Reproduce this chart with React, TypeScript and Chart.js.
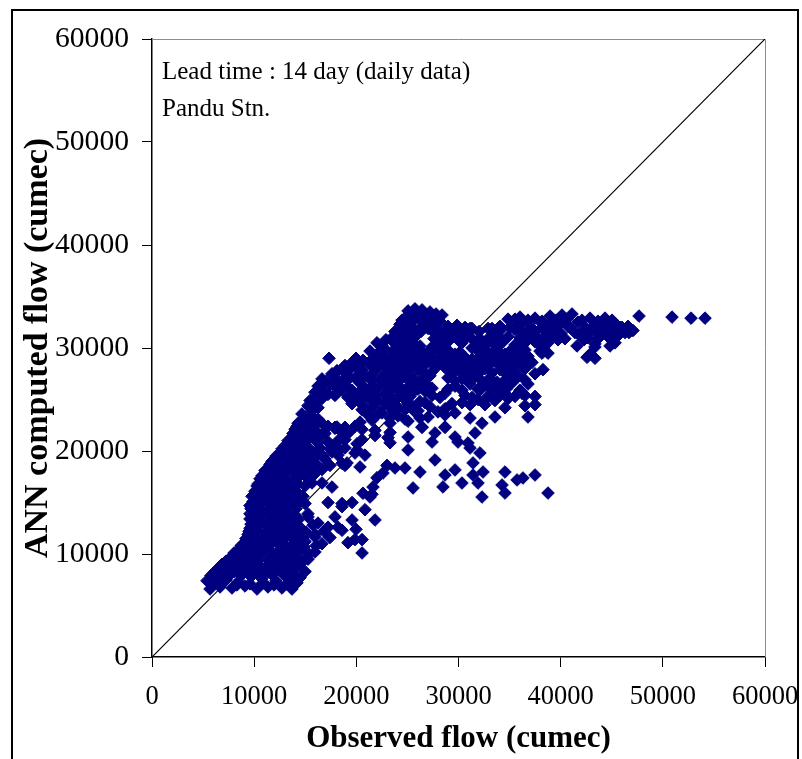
import React, { useEffect, useRef } from "react";
import { Chart, registerables } from "chart.js";

Chart.register(...registerables);

// [observed flow, ANN computed flow] in cumec, Pandu station, 14-day lead time
const baseFlowPoints: [number, number][] = [
  [5680, 6600], [6660, 6800], [7830, 6700], [9100, 6900], [10280, 6600], [11350, 6800], [12720, 6700], [13700, 6600],
  [5970, 7100], [6950, 7200], [8320, 7000], [9590, 7100], [10870, 7200], [11940, 7000], [13210, 7100], [14190, 7200],
  [5380, 7400], [6260, 7600], [7240, 7500], [8420, 7300], [10770, 7600], [12140, 7400], [13510, 7500], [14490, 7700],
  [5770, 7900], [6750, 7800], [7640, 8000], [8710, 7900], [9690, 7800], [10670, 7900], [11750, 8000], [13020, 7900], [14100, 7800],
  [6070, 8200], [7050, 8400], [8030, 8300], [9200, 8500], [10180, 8200], [11350, 8300], [12530, 8400], [13700, 8100], [14980, 8300],
  [6460, 8600], [7440, 8700], [8420, 8600], [9590, 8500], [10670, 8700], [11840, 8600], [13020, 8600], [14100, 8700],
  [6850, 9000], [7830, 8800], [8910, 9100], [9980, 8900], [11160, 8700], [12330, 9000], [13510, 8900], [14490, 9100],
  [7240, 9300], [8220, 9400], [9300, 9200], [10280, 9300], [11350, 9400], [12530, 9300], [13700, 9200], [14780, 9300],
  [7630, 9600], [8610, 9800], [9590, 9700], [10570, 9900], [11750, 9600], [13020, 9700], [14100, 9800], [15270, 9500],
  [8030, 10100], [8910, 10000], [9790, 10200], [10770, 10100], [11840, 10000], [12920, 10100], [14100, 10200], [15370, 10000],
  [8420, 10300], [9200, 10500], [10180, 10400], [11160, 10600], [12330, 10300], [13510, 10400], [14680, 10500], [15950, 10200], [20560, 10100],
  [8710, 10800], [9490, 10900], [10470, 10700], [11450, 10800], [12530, 10900], [13700, 10800], [14880, 10700], [16050, 10800],
  [9000, 11000], [9790, 11200], [10770, 11100], [11750, 11300], [12920, 11000], [14000, 11100], [14980, 11200], [16640, 11000], [19180, 11100],
  [9200, 11500], [9980, 11400], [10870, 11600], [11840, 11500], [12820, 11400], [13800, 11500], [14780, 11600], [15950, 11650], [20560, 11400],
  [9400, 11900], [10180, 11700], [11160, 11800], [12140, 12000], [13120, 11700], [14290, 11800], [15950, 11900], [17420, 11600], [19870, 11400],
  [9490, 12200], [10280, 12300], [11160, 12100], [12040, 12200], [13020, 12300], [14000, 12200], [15070, 12100], [16840, 12200], [18600, 12300],
  [9590, 12500], [10380, 12700], [11350, 12600], [12330, 12800], [13510, 12500], [14490, 12600], [16250, 13000], [17230, 12600], [18210, 12600], [19970, 12400],
  [9690, 12900], [10470, 13000], [11350, 12800], [12240, 12900], [13120, 13000], [14100, 12900], [15760, 12800],
  [9590, 13400], [10570, 13200], [11550, 13300], [12530, 13500], [13310, 13200], [14290, 13300], [15270, 13900], [19580, 13300], [21830, 13300],
  [9790, 13700], [10570, 13600], [11450, 13800], [12330, 13700], [13210, 13600], [14100, 13700], [15270, 13600],
  [9590, 13900], [10380, 14100], [11350, 14000], [12330, 14200], [13310, 13900], [17910, 13600], [20850, 14300],
];

const risingLimbPoints: [number, number][] = [
  [9690, 14400], [10470, 14500], [11350, 14300], [12240, 14400], [13120, 14500], [14100, 14400], [18600, 14600],
  [9590, 14700], [10570, 14900], [11550, 14800], [12530, 15000], [13510, 14700], [14980, 14900], [17230, 15000], [18600, 14900],
  [9890, 15100], [10670, 15200], [11550, 15000], [12430, 15100], [13410, 15200], [14390, 15100], [21340, 15530],
  [9790, 15600], [10770, 15400], [11750, 15500], [12720, 15700], [13700, 15400], [14780, 15600], [19580, 15000], [20650, 15900], [21530, 15800],
  [9980, 15800], [10870, 15900], [11750, 15700], [12630, 15800], [13510, 15900], [14390, 15800],
  [10080, 16100], [11060, 16300], [12040, 16200], [13020, 16400], [14000, 16100], [17620, 16500], [21630, 16500],
  [10280, 16600], [11160, 16500], [12040, 16700], [12920, 16600], [13800, 16500], [14980, 16600],
  [10380, 16800], [11350, 17000], [12330, 16900], [13310, 17100], [14290, 16800], [15660, 16900], [16640, 16900], [22020, 17400],
  [10570, 17300], [11450, 17400], [12330, 17200], [13310, 17300], [14290, 17400], [15470, 17300], [22610, 17860],
  [10770, 17600], [11750, 17800], [12720, 17700], [14000, 17900], [14980, 17600], [15950, 17800],
  [11060, 18100], [12040, 18000], [12920, 18200], [13800, 18100], [14680, 18000], [15660, 18100], [16640, 18200], [20360, 18450],
  [11350, 18300], [12330, 18500], [13310, 18400], [14290, 18600], [15270, 18300], [16250, 18500], [18890, 18600], [23000, 18600],
  [11550, 18700], [12330, 18800], [13210, 18600], [14100, 18700], [15070, 18800], [16050, 18700], [17420, 18600], [19090, 18840],
  [11750, 19000], [12720, 19200], [13700, 19100], [14680, 19300], [15660, 19000], [16930, 19200], [18600, 18800],
  [12140, 19500], [13020, 19400], [13900, 19600], [14780, 19500], [15760, 19400], [16740, 19500], [18210, 19600],
  [12530, 19700], [13510, 19900], [14290, 19800], [15270, 20000], [16250, 19700], [17620, 19900], [19870, 19800], [20850, 19600],
  [12720, 20200], [13610, 20300], [14490, 20100], [15470, 20200], [16440, 20300], [17420, 20200], [18400, 20100], [20070, 20100],
  [13020, 20500], [14000, 20700], [14980, 20600], [16250, 20800], [17910, 20500], [18890, 20300], [20070, 20700], [23300, 20800],
  [13310, 21000], [14190, 20900], [15070, 21100], [16050, 21000], [17230, 20900], [18210, 21000],
  [13700, 21300], [14490, 21500], [15470, 21400], [16640, 21600], [18890, 21100], [20560, 21100], [21830, 21500], [23100, 21300],
  [13800, 21700], [14680, 21800], [15660, 21600], [16930, 21700], [18600, 21800], [19090, 21750],
  [14000, 22100], [14980, 21900], [15950, 22000], [17910, 22200], [19380, 21900], [20560, 22100], [21830, 22000], [23300, 21800],
  [14190, 22400], [14980, 22300], [15950, 22500], [17230, 22400], [18110, 22330], [18890, 22300], [19870, 22400],
];

const peakBandPoints: [number, number][] = [
  [14290, 22700], [15270, 22900], [16640, 22700], [17910, 22300], [20360, 22800], [21530, 23000], [23300, 22700], [25060, 22900], [26430, 22300], [28680, 22300], [32300, 22700],
  [14980, 23200], [16250, 23100], [21830, 23300], [23300, 23200], [24760, 23100], [26230, 23200],
  [14680, 23600], [15660, 23400], [21140, 23500], [22510, 23700], [24080, 23400], [25740, 23800], [27020, 23300], [28680, 23500], [29660, 23700], [31130, 23200], [33570, 23300], [36800, 23300],
  [15660, 23900], [20560, 24000], [22320, 23800], [23590, 23900], [24760, 24000], [26040, 23900], [27990, 23800],
  [15270, 24400], [16250, 24200], [19580, 24600], [21530, 24300], [23100, 24500], [24080, 24200], [25450, 24400], [27210, 24300], [28680, 24100], [30340, 24700], [32590, 24500], [34550, 24200], [36510, 24400], [37490, 24500],
  [15950, 24600], [20560, 24500], [21830, 24700], [22810, 24600], [23780, 24500], [25060, 24600], [26720, 24700], [29360, 24600], [31130, 24500],
  [15470, 24900], [16640, 25100], [19870, 25000], [21140, 25200], [22120, 24900], [23490, 25100], [24760, 25000], [26230, 24800], [28190, 25200], [31910, 25000], [33570, 24900], [34850, 25100], [36510, 25400],
  [16250, 25300], [17910, 25400], [19180, 25200], [20560, 25300], [21830, 25400], [23100, 25300], [24080, 25200], [25250, 25300], [27410, 25400], [31320, 25200], [32890, 25300], [34060, 25400], [35530, 25300],
  [15950, 25700], [17230, 25500], [18600, 25900], [20160, 25600], [21530, 25800], [22810, 25500], [24270, 25700], [25450, 25600], [26720, 25800], [28680, 25600], [30640, 25400], [32100, 25900], [33280, 25900], [34550, 25600], [36220, 25600], [37490, 25300],
  [16640, 26000], [18010, 26100], [19580, 25900], [20950, 26000], [22120, 26100], [23490, 26000], [24760, 25900], [26040, 26000], [27410, 26100], [28970, 26000], [30340, 25900], [31910, 26000], [33380, 26100], [34650, 26000], [36020, 25900],
  [16250, 26300], [17420, 26500], [18890, 26400], [20360, 26600], [21530, 26300], [22810, 26500], [24080, 26400], [25250, 26200], [26720, 26600], [29660, 26300], [31130, 26500], [32590, 26400], [34060, 26200], [35240, 26600], [36800, 26500],
  [17030, 26800], [18600, 26700], [20070, 26900], [21530, 26800], [22900, 26700], [23980, 26800], [25060, 26900], [26230, 26800], [29660, 26800], [30930, 26900], [32300, 26800], [33770, 26700], [35240, 26800], [36510, 26900],
  [16640, 27000], [17910, 27200], [19380, 27100], [20850, 27300], [22320, 27000], [23490, 27200], [24470, 27100], [25740, 26900], [27210, 27300], [28970, 27100], [30340, 27000], [31620, 27200], [33080, 27100], [34550, 26900], [35820, 27200],
  [17620, 27500], [18890, 27600], [20160, 27400], [21530, 27500], [22900, 27600], [24080, 27500], [25250, 27400], [26720, 27500], [29360, 27500], [30640, 27400], [31910, 27500], [33280, 27600], [34650, 27500], [35820, 27400], [37490, 27500],
  [18110, 27800], [19380, 28000], [20560, 27900], [22120, 28100], [23490, 27800], [24760, 28000], [26040, 27900], [27410, 27700], [28680, 28100], [29950, 27900], [31130, 27800], [32590, 28000], [34060, 27900], [35240, 27700], [36510, 28000], [38270, 27900],
  [18890, 28300], [19970, 28200], [21340, 28400], [22810, 28300], [24080, 28200], [25450, 28300], [26720, 28400], [27990, 28300], [29170, 28200], [30340, 28300], [31620, 28400], [32890, 28300], [34260, 28200], [35530, 28300], [36800, 28400],
  [19380, 28400], [20560, 28700], [22120, 28500], [23490, 28600], [24760, 28400], [26040, 28700], [27410, 28500], [28680, 28300], [29660, 28600], [30930, 28500], [32300, 28400], [33570, 28700], [34850, 28500], [36220, 28300], [37190, 28600],
  [21530, 28900], [23300, 29000], [24760, 28800], [26040, 28900], [27410, 29000], [28680, 28900], [29950, 28800], [31320, 28900], [32500, 29000], [33870, 28900], [35240, 28800], [36410, 28900],
  [17330, 29000], [19970, 29000], [20650, 28800], [22510, 29200], [24080, 29000], [25450, 29300], [26720, 29100], [27990, 28900], [29360, 29200], [30640, 29100], [31910, 29000], [33080, 29300], [34550, 29100], [35820, 28900], [36800, 29200], [38170, 29500], [42580, 29100],
  [22120, 29500], [23490, 29600], [24670, 29400], [25840, 29500], [27020, 29600], [28390, 29500], [29660, 29400], [32010, 29600], [33280, 29500], [34550, 29400], [35820, 29500], [38760, 29500], [42870, 29400],
  [21340, 29700], [22810, 29900], [24080, 29800], [25250, 30000], [26430, 29700], [27700, 29900], [28970, 29800], [30150, 29600], [31320, 30000], [32590, 29800], [33870, 29700], [35240, 29900], [36510, 29800], [37980, 29700], [41600, 30200], [43360, 30100], [43360, 29000],
  [22510, 30200], [23980, 30100], [25060, 30300], [26230, 30200], [27410, 30100], [28480, 30200], [32500, 30100], [33670, 30200], [36220, 30200], [38170, 30100], [44830, 30200],
  [22020, 30500], [23490, 30700], [24470, 30400], [25450, 30600], [27990, 30300], [28970, 30600], [30340, 30500], [31910, 30400], [33080, 30700], [34260, 30500], [35530, 30300], [37490, 30600], [38760, 30500], [39740, 30800], [43360, 30400], [45320, 30500],
  [22900, 30800], [23980, 30900], [25060, 30700], [27600, 30900], [28780, 30800], [30050, 30700], [31420, 30800], [32890, 30900], [34260, 30800], [36800, 30800], [38170, 30900], [39740, 30800], [42280, 30800], [43650, 30900], [44930, 30800],
  [23490, 31000], [24470, 31200], [25740, 31100], [28190, 31000], [29360, 31200], [30740, 31100], [32100, 30900], [33570, 31300], [34850, 31100], [36020, 31000], [37490, 31200], [38960, 31100], [40420, 30900], [41890, 31200], [42680, 31000], [44340, 31400], [45510, 31100],
  [24080, 31500], [25250, 31400], [26330, 31600], [27600, 31500], [28780, 31400], [30150, 31500], [32010, 31600], [33480, 31500], [36220, 31500], [37490, 31600], [38760, 31500], [40030, 31400], [41400, 31500], [42870, 31600], [44440, 31500], [45710, 31400], [46690, 31500],
  [23780, 31600], [24760, 31800], [25740, 31700], [27020, 31900], [28190, 31600], [29360, 31800], [31130, 31900], [32890, 31900], [34060, 31700], [35530, 31800], [36800, 31600], [38170, 32000], [39450, 31800], [40720, 32100], [42090, 31600], [43650, 31400], [45120, 31700], [46300, 31500], [47080, 31700],
  [24470, 32000], [25160, 32100], [26230, 31900], [27600, 32000], [28970, 32100], [30640, 32000], [34060, 32100], [35630, 32000], [37190, 31900], [38660, 32000], [39640, 32100], [40910, 32000], [42480, 31900], [43850, 32000], [44830, 32100], [46000, 32000],
  [24270, 32300], [25450, 32500], [27020, 32400], [28190, 32600], [29850, 32200], [31320, 31900], [33280, 31900], [35040, 32000], [36220, 32300], [38170, 32400], [39150, 32400], [40130, 32600], [41700, 32500], [43360, 32300], [44340, 32700], [45320, 32400], [45810, 32000], [46590, 32100],
  [24470, 32700], [25250, 32800], [26430, 32600], [27800, 32700], [35530, 32800], [36800, 32700], [38170, 32600], [39540, 32700], [40620, 32800], [42090, 32700], [43650, 32600], [45030, 32700],
  [24760, 32900], [26040, 33100], [27410, 33000], [28390, 33200], [34850, 32800], [36020, 33000], [37490, 32900], [38960, 33100], [40130, 33200], [41110, 33300], [42870, 32900], [44340, 32900], [47670, 33100], [50900, 33000], [52760, 32900], [54130, 32900],
  [25250, 33300], [26040, 33400], [26820, 33200], [27800, 33300],
  [25060, 33600], [25740, 33800], [26430, 33700], [27210, 33500],
];

const recessionPoints: [number, number][] = [
  [25060, 20100], [27410, 20870], [29950, 20870], [27700, 19130], [24760, 18350], [23780, 18350], [26230, 17960],
  [25550, 16410], [28480, 16510], [28680, 17670], [29660, 18160], [30340, 16890], [31420, 17670], [31910, 16890],
  [32400, 17960], [32300, 15530], [31420, 18840], [32100, 19810], [31130, 20290], [34550, 17960], [34260, 16700],
  [34550, 15920], [35730, 17190], [36310, 17380], [37490, 17670], [38760, 15920], [25060, 21360], [27700, 21750],
  [29660, 21360], [31620, 21750], [30930, 20780], [28680, 22330], [26430, 22330],
];

// 1:1 reference line
const perfectFitLine = [
  { x: 0, y: 0 },
  { x: 60000, y: 60000 },
];

const axisMin = 0;
const axisMax = 60000;
const axisStep = 10000;

const annotationLines = ["Lead time : 14 day (daily data)", "Pandu Stn."];

const SERIF = '"Liberation Serif", "Times New Roman", serif';

const framePlugin = {
  id: "frame",
  beforeDatasetsDraw(chart: any) {
    const { ctx, chartArea } = chart;
    ctx.save();
    ctx.strokeStyle = "#8c8c8c";
    ctx.lineWidth = 1;
    ctx.beginPath();
    ctx.moveTo(chartArea.left, chartArea.top + 0.5);
    ctx.lineTo(chartArea.right + 0.5, chartArea.top + 0.5);
    ctx.lineTo(chartArea.right + 0.5, chartArea.bottom);
    ctx.stroke();
    ctx.restore();
  },
  afterDraw(chart: any) {
    const { ctx, chartArea } = chart;
    ctx.save();
    // outer chart border
    ctx.strokeStyle = "#000";
    ctx.lineWidth = 2;
    ctx.strokeRect(12, 10, 786, 770);
    // text box in the upper-left of the plot
    ctx.fillStyle = "#000";
    ctx.font = `25px ${SERIF}`;
    ctx.textBaseline = "alphabetic";
    ctx.textAlign = "left";
    ctx.fillText(annotationLines[0], chartArea.left + 10, 79);
    ctx.fillText(annotationLines[1], chartArea.left + 10, 116);
    ctx.restore();
  },
};

export default function App() {
  const canvasRef = useRef<HTMLCanvasElement | null>(null);

  useEffect(() => {
    if (!canvasRef.current) return;
    const flowPoints = [...baseFlowPoints, ...risingLimbPoints, ...peakBandPoints, ...recessionPoints].map(
      ([x, y]) => ({ x, y })
    );
    const chart = new Chart(canvasRef.current, {
      type: "scatter",
      data: {
        datasets: [
          {
            type: "scatter",
            label: "ANN",
            data: flowPoints,
            pointStyle: "rectRot",
            pointRadius: 6.3,
            backgroundColor: "#000080",
            borderColor: "#000080",
            borderWidth: 1,
            order: 0,
          },
          {
            type: "line",
            label: "1:1",
            data: perfectFitLine,
            borderColor: "#000",
            borderWidth: 1.2,
            pointRadius: 0,
            fill: false,
            order: 1,
          },
        ],
      } as any,
      options: {
        responsive: false,
        animation: false,
        devicePixelRatio: 1,
        layout: { padding: { top: 39, right: 37, left: 0, bottom: 0 } },
        plugins: { legend: { display: false }, tooltip: { enabled: false } },
        scales: {
          x: {
            type: "linear",
            min: axisMin,
            max: axisMax,
            ticks: {
              stepSize: axisStep,
              color: "#000",
              font: { family: SERIF, size: 26.5 },
              padding: 14,
              maxRotation: 0,
              autoSkip: false,
              callback: (v: any) => String(v),
            },
            grid: { drawOnChartArea: false, drawTicks: true, tickLength: 10, color: "#000", lineWidth: 1 },
            border: { display: true, color: "#000", width: 1.5 },
            title: {
              display: true,
              text: "Observed flow (cumec)",
              color: "#000",
              font: { family: SERIF, size: 31, weight: "bold", lineHeight: 1 },
              padding: { top: 0, bottom: 5 },
            },
            afterFit: (s: any) => {
              s.height = 102;
              s.paddingLeft = 0;
              s.paddingRight = 0;
            },
          },
          y: {
            type: "linear",
            min: axisMin,
            max: axisMax,
            ticks: {
              stepSize: axisStep,
              color: "#000",
              font: { family: SERIF, size: 29.6 },
              padding: 13,
              autoSkip: false,
              callback: (v: any) => String(v),
            },
            grid: { drawOnChartArea: false, drawTicks: true, tickLength: 10, color: "#000", lineWidth: 1 },
            border: { display: true, color: "#000", width: 1.5 },
            title: {
              display: true,
              text: "ANN computed flow (cumec)",
              color: "#000",
              font: { family: SERIF, size: 34, weight: "bold", lineHeight: 1 },
              padding: { top: 21, bottom: 0 },
            },
            afterFit: (s: any) => {
              s.width = 152;
              s.paddingTop = 0;
              s.paddingBottom = 0;
            },
          },
        },
      } as any,
      plugins: [framePlugin],
    });
    return () => chart.destroy();
  }, []);

  return (
    <div style={{ position: "fixed", left: 0, top: 0, width: 802, height: 759, background: "#fff" }}>
      <canvas ref={canvasRef} width={802} height={759} style={{ display: "block" }} />
    </div>
  );
}
